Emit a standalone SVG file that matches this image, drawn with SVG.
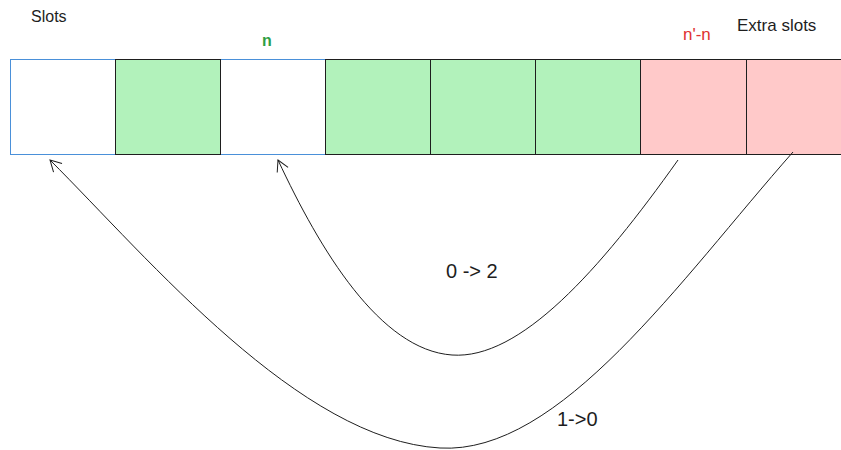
<svg xmlns="http://www.w3.org/2000/svg" width="841" height="450" viewBox="0 0 841 450">
<style>
text{font-family:"Liberation Sans","DejaVu Sans",sans-serif;font-size:16px;fill:#1e1e1e}
.g{fill:#b2f2bb;stroke:#1e1e1e;stroke-width:1}
.r{fill:#ffc9c9;stroke:#1e1e1e;stroke-width:1}
.w{fill:#ffffff;stroke:none}
.c{fill:none;stroke:#1e1e1e;stroke-width:1}
</style>
<defs>
<marker id="ah" markerWidth="14" markerHeight="14" refX="12" refY="7" orient="auto" markerUnits="userSpaceOnUse">
<path d="M1,1 L12,7 L1,13" fill="none" stroke="#1e1e1e" stroke-width="1"/>
</marker>
</defs>
<rect width="841" height="450" fill="#ffffff"/>
<g id="slots">
<rect x="10.5" y="59.5" width="840" height="95" fill="#ffffff" stroke="#4a90d9" stroke-width="1"/>
<rect id="cell0" class="w" x="11" y="60" width="104" height="94"/>
<rect id="cell1" class="g" x="115.5" y="59.5" width="105" height="95"/>
<rect id="cell2" class="w" x="221" y="60" width="104" height="94"/>
<rect id="cell3" class="g" x="325.5" y="59.5" width="105" height="95"/>
<rect id="cell4" class="g" x="430.5" y="59.5" width="105" height="95"/>
<rect id="cell5" class="g" x="535.5" y="59.5" width="105" height="95"/>
<rect id="cell6" class="r" x="640.5" y="59.5" width="106" height="95"/>
<rect id="cell7" class="r" x="746.5" y="59.5" width="106" height="95"/>
</g>
<g id="labels">
<text x="31" y="22">Slots</text>
<text x="262" y="46" style="fill:#2f9e44;font-weight:bold">n</text>
<text x="683" y="40" style="fill:#e03131;font-size:17px">n'-n</text>
<text x="737" y="31" style="font-size:17px">Extra slots</text>
<text x="446" y="278" style="font-size:20px">0 -&gt; 2</text>
<text x="557" y="426" style="font-size:20px">1-&gt;0</text>
</g>
<g id="connectors">
<path class="c" d="M678,160 C600,270 520,360 452,355 C380,350 320,250 278,160" marker-end="url(#ah)"/>
<path class="c" d="M793,152 C680,280 560,455 440,448 C300,440 150,260 50,160" marker-end="url(#ah)"/>
</g>
</svg>
